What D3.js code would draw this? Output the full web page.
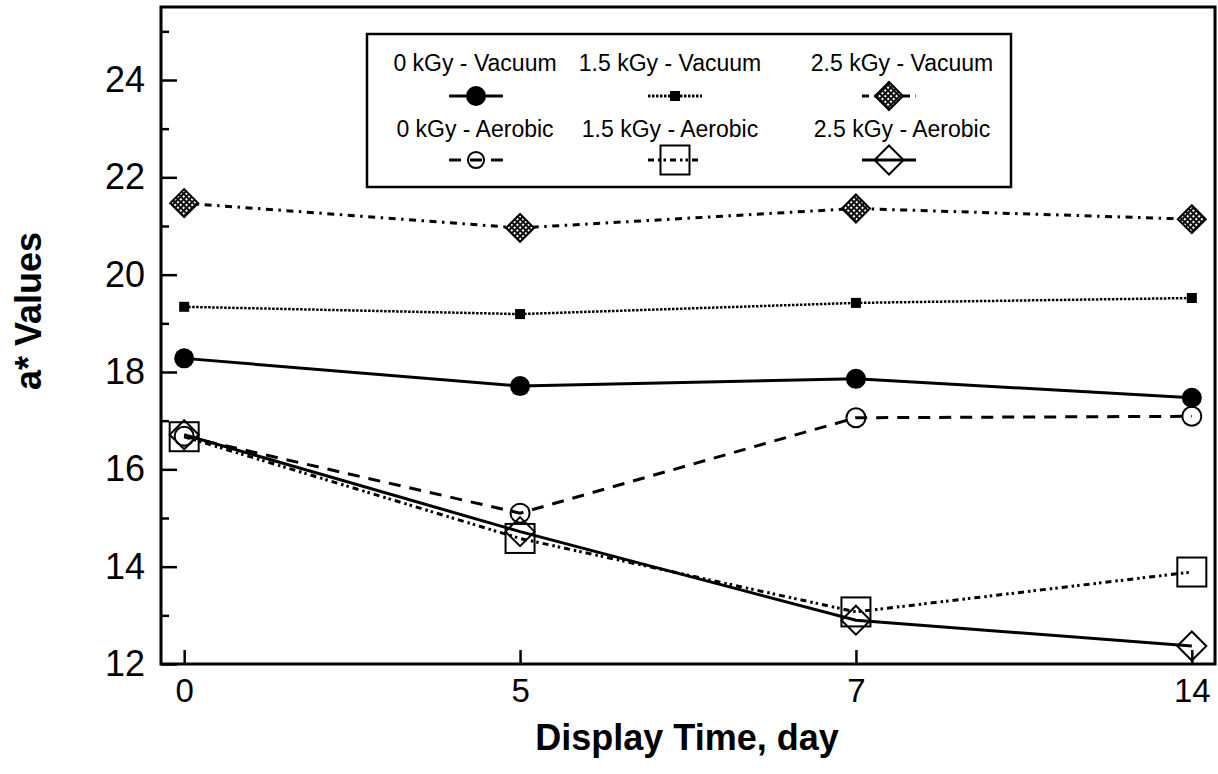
<!DOCTYPE html>
<html>
<head>
<meta charset="utf-8">
<script src="https://cdn.jsdelivr.net/npm/d3@7"></script>
<style>
  body { margin: 0; background: #fff; }
  text { font-family: "Liberation Sans", Arial, sans-serif; fill: #000; }
</style>
</head>
<body>
<div id="my_dataviz"></div>
<script>
// data
const days = ["0", "5", "7", "14"];
const vacuum0 = [18.28, 17.71, 17.86, 17.47];
const vacuum15 = [19.34, 19.19, 19.42, 19.52];
const vacuum25 = [21.47, 20.96, 21.36, 21.14];
const aerobic0 = [16.68, 15.10, 17.06, 17.09];
const aerobic15 = [16.67, 14.58, 13.07, 13.89];
const aerobic25 = [16.71, 14.72, 12.90, 12.37];
const yTicks = [12, 14, 16, 18, 20, 22, 24];
const yMinor = [13, 15, 17, 19, 21, 23, 25];
const seriesNames = ["0 kGy - Vacuum", "1.5 kGy - Vacuum", "2.5 kGy - Vacuum",
                     "0 kGy - Aerobic", "1.5 kGy - Aerobic", "2.5 kGy - Aerobic"];

// set the dimensions and margins of the graph
const margin = {top: 7, right: 3, bottom: 110, left: 161},
    width = 1218 - margin.left - margin.right,
    height = 774 - margin.top - margin.bottom;

const root = d3.select("#my_dataviz")
  .append("svg")
    .attr("width", 1218)
    .attr("height", 774);

// hatch pattern for the 2.5 kGy vacuum diamonds
const pat = root.append("defs").append("pattern")
  .attr("id", "hatch")
  .attr("patternUnits", "userSpaceOnUse")
  .attr("width", 4).attr("height", 4)
  .attr("patternTransform", "rotate(45)");
pat.append("rect").attr("width", 4).attr("height", 4).attr("fill", "#111");
pat.append("rect").attr("x", 1).attr("y", 1).attr("width", 2).attr("height", 2).attr("fill", "#fff");

const svg = root.append("g")
  .attr("transform", `translate(${margin.left},${margin.top})`);

const x = d3.scalePoint()
  .domain(days)
  .range([0, width])
  .padding(0.069);

const y = d3.scaleLinear()
  .domain([12, 25.5])
  .range([height, 0]);

// y axis, ticks pointing inside
svg.append("g")
  .call(d3.axisLeft(y).tickValues(yTicks).tickSizeInner(-16).tickSizeOuter(0).tickPadding(16))
  .call(g => g.select(".domain").remove())
  .call(g => g.selectAll("line").attr("stroke-width", 2.5))
  .call(g => g.selectAll("text")
    .attr("font-family", "Liberation Sans, Arial, sans-serif")
    .attr("font-size", 36)
    .attr("fill", "#000"));

svg.append("g")
  .call(d3.axisLeft(y).tickValues(yMinor).tickSizeInner(-8).tickSizeOuter(0).tickFormat(""))
  .call(g => g.select(".domain").remove())
  .call(g => g.selectAll("line").attr("stroke-width", 2.5));

// x axis
svg.append("g")
  .attr("transform", `translate(0, ${height})`)
  .call(d3.axisBottom(x).tickSizeInner(-14).tickSizeOuter(0).tickPadding(15))
  .call(g => g.select(".domain").remove())
  .call(g => g.selectAll("line").attr("stroke-width", 2.5))
  .call(g => g.selectAll("text")
    .attr("font-family", "Liberation Sans, Arial, sans-serif")
    .attr("font-size", 33)
    .attr("fill", "#000"));

// frame
svg.append("rect")
  .attr("width", width)
  .attr("height", height)
  .attr("fill", "none")
  .attr("stroke", "#000")
  .attr("stroke-width", 3);

// axis titles
svg.append("text")
  .attr("x", 687 - margin.left)
  .attr("y", 750 - margin.top)
  .attr("text-anchor", "middle")
  .attr("font-size", 36)
  .attr("font-weight", "bold")
  .text("Display Time, day");

svg.append("text")
  .attr("transform", "rotate(-90)")
  .attr("x", -(311 - margin.top))
  .attr("y", 41 - margin.left)
  .attr("text-anchor", "middle")
  .attr("font-size", 36)
  .attr("font-weight", "bold")
  .text("a* Values");

// series styles: marker + dash
const series = [
  {name: seriesNames[0], values: vacuum0,  marker: "filledCircle", dash: null},
  {name: seriesNames[1], values: vacuum15, marker: "smallSquare",  dash: "2.5,1.5"},
  {name: seriesNames[2], values: vacuum25, marker: "hatchDiamond", dash: "7,5.5,2.5,5.5"},
  {name: seriesNames[3], values: aerobic0, marker: "openCircle",   dash: "12,9"},
  {name: seriesNames[4], values: aerobic15, marker: "openSquare",  dash: "6,4,2.5,3,2.5,4"},
  {name: seriesNames[5], values: aerobic25, marker: "openDiamond", dash: null}
];

function drawMarker(g, type, cx, cy, s) {
  s = s || 1;
  if (type === "filledCircle") {
    g.append("circle").attr("cx", cx).attr("cy", cy).attr("r", 10 * s).attr("fill", "#000");
  } else if (type === "smallSquare") {
    g.append("rect").attr("x", cx - 5).attr("y", cy - 5).attr("width", 10).attr("height", 10).attr("fill", "#000");
  } else if (type === "hatchDiamond") {
    const h = 14 * s;
    g.append("path")
      .attr("d", `M${cx},${cy - h}L${cx + h},${cy}L${cx},${cy + h}L${cx - h},${cy}Z`)
      .attr("fill", "url(#hatch)").attr("stroke", "#000").attr("stroke-width", 2);
  } else if (type === "openCircle") {
    g.append("circle").attr("cx", cx).attr("cy", cy).attr("r", 9.5 * s)
      .attr("fill", "none").attr("stroke", "#000").attr("stroke-width", 2);
  } else if (type === "openSquare") {
    const h = 14.5 * s;
    g.append("rect").attr("x", cx - h).attr("y", cy - h).attr("width", 2 * h).attr("height", 2 * h)
      .attr("fill", "none").attr("stroke", "#000").attr("stroke-width", 2);
  } else if (type === "openDiamond") {
    const h = 14.5 * s;
    g.append("path")
      .attr("d", `M${cx},${cy - h}L${cx + h},${cy}L${cx},${cy + h}L${cx - h},${cy}Z`)
      .attr("fill", "none").attr("stroke", "#000").attr("stroke-width", 2);
  }
}

const line = d3.line()
  .x((d, i) => x(days[i]))
  .y(d => y(d));

// lines
svg.append("g")
  .selectAll("path")
  .data(series)
  .join("path")
    .attr("d", d => line(d.values))
    .attr("fill", "none")
    .attr("stroke", "#000")
    .attr("stroke-width", d => d.marker === "smallSquare" ? 2.5 : 3)
    .attr("stroke-dasharray", d => d.dash);

// markers
const marks = svg.append("g");
series.slice().reverse().forEach(s => {
  s.values.forEach((v, i) => drawMarker(marks, s.marker, x(days[i]), y(v)));
});

// legend
const legend = root.append("g");
legend.append("rect")
  .attr("x", 367).attr("y", 34)
  .attr("width", 644).attr("height", 153)
  .attr("fill", "#fff")
  .attr("stroke", "#000")
  .attr("stroke-width", 2.5);

const legCols = [475, 670, 902];
const legSym = [476, 675, 889];
const legRows = [71, 137];
const legSymRows = [96, 160];

series.forEach((s, i) => {
  const col = i % 3, row = Math.floor(i / 3);
  legend.append("text")
    .attr("x", legCols[col])
    .attr("y", legRows[row])
    .attr("text-anchor", "middle")
    .attr("font-size", 23)
    .text(s.name);
  const cx = legSym[col], cy = legSymRows[row];
  legend.append("line")
    .attr("x1", cx - 27).attr("x2", cx + 27)
    .attr("y1", cy).attr("y2", cy)
    .attr("stroke", "#000")
    .attr("stroke-width", 3)
    .attr("stroke-dasharray", s.dash);
  drawMarker(legend, s.marker, cx, cy, row === 1 && col === 0 ? 0.85 : 1);
});
</script>
</body>
</html>
